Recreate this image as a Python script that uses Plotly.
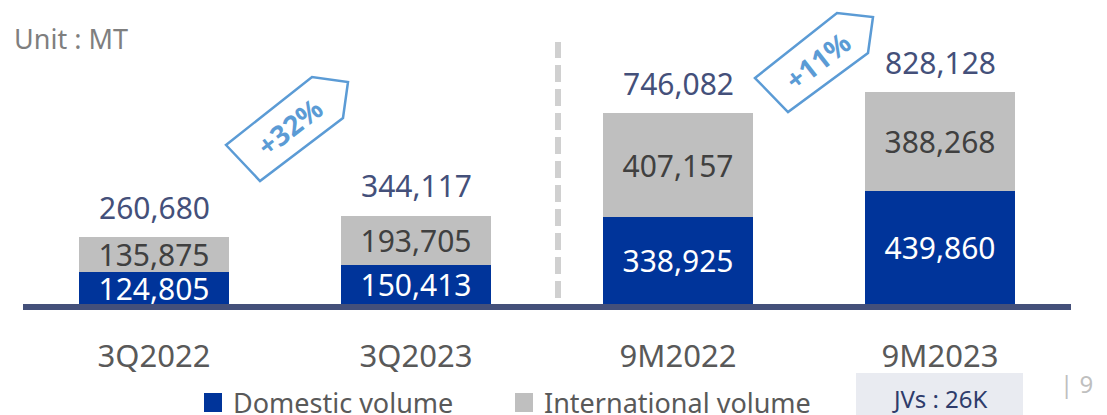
import plotly.graph_objects as go

# Sales volume by period (metric tonnes)
periods = ["3Q2022", "3Q2023", "9M2022", "9M2023"]
domestic = [124805, 150413, 338925, 439860]
international = [135875, 193705, 407157, 388268]
totals = [260680, 344117, 746082, 828128]
growth_labels = ["+32%", "+11%"]

FONT = "Noto Sans"
BLUE = "#00349A"
GRAY = "#BFBFBF"
NAVY = "#44507A"
TAG = "#5B9BD5"

W, H = 1107, 415
L, R, T, B = 23, 1071, 20, 304          # plot area edges in pixels
PW, PH = R - L, B - T


def pp(x, y):
    """pixel position -> paper coordinates"""
    return (x - L) / PW, (B - y) / PH


def path(points):
    pts = [pp(x, y) for x, y in points]
    return "M " + " L ".join(f"{a:.5f},{b:.5f}" for a, b in pts) + " Z"


fig = go.Figure()
fig.add_bar(
    x=periods, y=domestic, name="Domestic volume",
    marker=dict(color=BLUE, line=dict(width=0)),
    text=[f"{v:,}" for v in domestic], textposition="inside",
    insidetextanchor="middle", constraintext="none",
    textfont=dict(family=FONT, size=30, color="white"),
)
fig.add_bar(
    x=periods, y=international, name="International volume",
    marker=dict(color=GRAY, line=dict(width=0)),
    text=[f"{v:,}" for v in international], textposition="inside",
    insidetextanchor="middle", constraintext="none",
    textfont=dict(family=FONT, size=30, color="#404040"),
)

annotations = []
for p, t in zip(periods, totals):
    annotations.append(dict(
        x=p, y=t, xref="x", yref="y", text=f"{t:,}", showarrow=False,
        xanchor="center", yanchor="middle", yshift=30,
        font=dict(family=FONT, size=30, color=NAVY),
    ))

shapes = []
# baseline
x0, y0 = pp(L, B)
x1, y1 = pp(R, B + 6)
shapes.append(dict(type="rect", xref="paper", yref="paper", x0=x0, x1=x1,
                   y0=y1, y1=y0, fillcolor="#44507A", line=dict(width=0),
                   layer="above"))
# dashed divider between quarter and nine-month figures
dx, dy0 = pp(558, 298)
_, dy1 = pp(558, 42)
shapes.append(dict(type="line", xref="paper", yref="paper", x0=dx, x1=dx,
                   y0=dy0, y1=dy1,
                   line=dict(color="#D0D0D0", width=6, dash="17px,7px")))

# growth tags
tags = [
    ([(226, 145), (312, 77), (348, 82), (343, 118), (260, 181)], (289, 127)),
    ([(755, 78), (837, 13), (873, 17), (868, 53), (788, 112)], (817, 61)),
]
for (pts, (cx, cy)), lab in zip(tags, growth_labels):
    shapes.append(dict(type="path", xref="paper", yref="paper", path=path(pts),
                       line=dict(color=TAG, width=2.5), fillcolor="rgba(0,0,0,0)"))
    ax, ay = pp(cx, cy)
    annotations.append(dict(x=ax, y=ay, xref="paper", yref="paper", text=f"<b>{lab}</b>",
                            showarrow=False, textangle=-38,
                            xanchor="center", yanchor="middle",
                            font=dict(family=FONT, size=28, color=TAG)))

# unit note
ux, uy = pp(12, 38)
annotations.append(dict(x=ux, y=uy, xref="paper", yref="paper", text="Unit : MT",
                        showarrow=False, xanchor="left", yanchor="middle",
                        font=dict(family=FONT, size=27, color="#7F7F7F")))

# legend
for (sx, label, col) in [(204, "Domestic volume", BLUE), (515, "International volume", GRAY)]:
    a0, b0 = pp(sx, 412)
    a1, b1 = pp(sx + 18, 393)
    shapes.append(dict(type="rect", xref="paper", yref="paper", x0=a0, x1=a1,
                       y0=b0, y1=b1, fillcolor=col, line=dict(width=0)))
    tx, ty = pp(sx + 27, 403)
    annotations.append(dict(x=tx, y=ty, xref="paper", yref="paper", text=label,
                            showarrow=False, xanchor="left", yanchor="middle",
                            font=dict(family=FONT, size=27, color="#595959")))

# JV note box
a0, b0 = pp(856, 415)
a1, b1 = pp(1023, 373)
shapes.append(dict(type="rect", xref="paper", yref="paper", x0=a0, x1=a1,
                   y0=b0, y1=b1, fillcolor="#E9EBF1", line=dict(width=0)))
tx, ty = pp(940, 399)
annotations.append(dict(x=tx, y=ty, xref="paper", yref="paper", text="JVs : 26K",
                        showarrow=False, xanchor="center", yanchor="middle",
                        font=dict(family=FONT, size=24, color="#2E3C6B")))
# page number
tx, ty = pp(1058, 383)
annotations.append(dict(x=tx, y=ty, xref="paper", yref="paper", text="| 9",
                        showarrow=False, xanchor="left", yanchor="middle",
                        font=dict(family=FONT, size=24, color="#BFBFBF")))

ymax = 828128 * PH / 212

fig.update_layout(
    width=W, height=H,
    margin=dict(l=L, r=W - R, t=T, b=H - B, pad=0),
    barmode="stack", bargap=0.4275,
    plot_bgcolor="white", paper_bgcolor="white",
    showlegend=False,
    shapes=shapes, annotations=annotations,
    xaxis=dict(showline=False, showgrid=False, zeroline=False, ticks="",
               tickfont=dict(family=FONT, size=31, color="#595959"),
               ticklabelstandoff=31, fixedrange=True),
    yaxis=dict(range=[0, ymax], visible=False, fixedrange=True),
    uniformtext=dict(mode=False),
)

fig.write_html("out.html", config=dict(displayModeBar=False))
